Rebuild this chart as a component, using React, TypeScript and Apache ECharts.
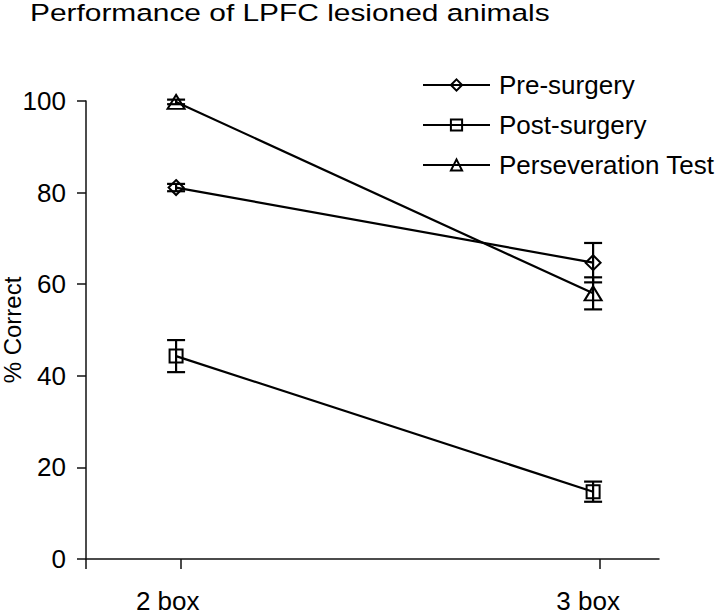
import React, { useEffect, useRef } from "react";
import * as echarts from "echarts";

const categories = ["2 box", "3 box"];
const xPositions = [1, 2];
const seriesNames = ["Pre-surgery", "Post-surgery", "Perseveration Test"];
const preSurgery = [81.1, 64.7];
const preErr = [0.8, 4.3];
const postSurgery = [44.3, 14.7];
const postErr = [3.5, 2.2];
const perseveration = [99.8, 58];
const persErr = [0.5, 3.5];
const yTicks = [0, 20, 40, 60, 80, 100];
const titleText = "Performance of LPFC lesioned animals";

const FONT = "'Liberation Sans', Arial, Helvetica, sans-serif";

export default function App() {
  const ref = useRef<HTMLDivElement>(null);
  useEffect(() => {
    if (!ref.current) return;
    const chart = echarts.init(ref.current, undefined, { renderer: "svg" });
    const symbols = ["diamond", "rect", "triangle"];
    const sizes = [[15, 15], [13, 13], [17, 14]];
    const values = [preSurgery, postSurgery, perseveration];
    const errs = [preErr, postErr, persErr];

    const lineSeries = seriesNames.map((name, i) => ({
      name,
      type: "line",
      data: xPositions.map((x, j) => [x, values[i][j]]),
      symbol: symbols[i],
      symbolSize: sizes[i],
      showAllSymbol: true,
      lineStyle: { color: "#000", width: 2.2 },
      itemStyle: { color: "rgba(255,255,255,0)", borderColor: "#000", borderWidth: 2 },
      z: 3,
    }));

    const errSeries = seriesNames.map((name, i) => ({
      name: name + " err",
      type: "custom",
      data: xPositions.map((x, j) => [x, values[i][j] - errs[i][j], values[i][j] + errs[i][j]]),
      encode: { x: 0, y: [1, 2] },
      z: 2,
      renderItem: (params: any, api: any) => {
        const x = api.value(0);
        const lo = api.coord([x, api.value(1)]);
        const hi = api.coord([x, api.value(2)]);
        const hw = 9;
        const st = { stroke: "#000", lineWidth: 2.2 };
        return {
          type: "group",
          children: [
            { type: "line", shape: { x1: lo[0], y1: lo[1], x2: hi[0], y2: hi[1] }, style: st },
            { type: "line", shape: { x1: lo[0] - hw, y1: lo[1], x2: lo[0] + hw, y2: lo[1] }, style: st },
            { type: "line", shape: { x1: hi[0] - hw, y1: hi[1], x2: hi[0] + hw, y2: hi[1] }, style: st },
          ],
        };
      },
    }));

    chart.setOption({
      animation: false,
      backgroundColor: "#fff",
      textStyle: { fontFamily: FONT },
      graphic: [
        {
          type: "text",
          x: 30,
          y: 13,
          scaleX: 1.23,
          style: {
            text: titleText,
            fontSize: 24.3,
            fontFamily: FONT,
            fill: "#000",
            verticalAlign: "middle",
            align: "left",
          },
        },
      ],
      legend: {
        orient: "vertical",
        left: 422,
        top: 70,
        padding: 0,
        itemWidth: 67,
        itemHeight: 14,
        itemGap: 10,
        data: seriesNames,
        textStyle: { fontSize: 26, color: "#000", fontFamily: FONT, padding: [0, 0, 0, 4], lineHeight: 30 },
      },
      grid: { left: 86, right: 61, top: 101, bottom: 56, outerBoundsMode: "none", containLabel: false },
      xAxis: {
        type: "value",
        min: 0.784,
        max: 2.158,
        splitLine: { show: false },
        axisLine: { lineStyle: { color: "#111", width: 1.5 } },
        axisTick: { customValues: [0.784, 1.012, 2.017], length: 10, lineStyle: { color: "#111", width: 1.5 } },
        axisLabel: {
          customValues: [0.98, 1.988],
          formatter: (v: number) => categories[Math.round(v) - 1],
          fontSize: 26,
          color: "#000",
          margin: 29,
          fontFamily: FONT,
        },
      },
      yAxis: {
        type: "value",
        min: 0,
        max: 100,
        interval: 20,
        name: "% Correct",
        nameLocation: "middle",
        nameGap: 62,
        nameMoveOverlap: false,
        nameTextStyle: { fontSize: 24, color: "#000", fontFamily: FONT },
        splitLine: { show: false },
        axisLine: { lineStyle: { color: "#111", width: 1.5 } },
        axisTick: { length: 9, lineStyle: { color: "#111", width: 1.5 } },
        axisLabel: {
          fontSize: 26,
          color: "#000",
          margin: 20,
          fontFamily: FONT,
          formatter: (v: number) => (yTicks.includes(v) ? String(v) : ""),
        },
      },
      series: [...errSeries, ...lineSeries],
    });
    return () => chart.dispose();
  }, []);
  return <div ref={ref} style={{ width: 720, height: 615, position: "absolute", left: 0, top: 0 }} />;
}
